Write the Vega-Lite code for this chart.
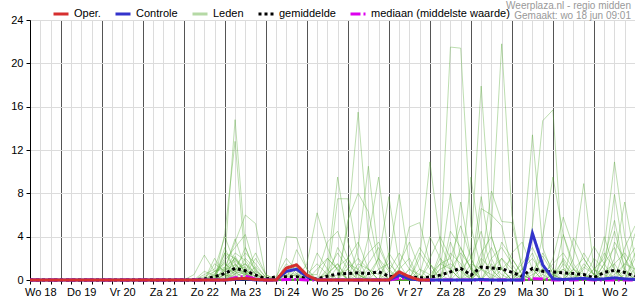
{
"$schema": "https://vega.github.io/schema/vega-lite/v6.json",
"autosize": "none",
"width": 605,
"height": 260,
"padding": {"left": 30, "top": 20, "right": 0, "bottom": 20},
"background": "white",
"config": {"font": "Liberation Sans", "view": {"stroke": "#000000", "strokeWidth": 1}},
"title": {"text": "Weerplaza.nl - regio midden", "subtitle": "Gemaakt: wo 18 jun 09:01", "anchor": "end", "frame": "group", "orient": "top", "fontSize": 10, "fontWeight": "normal", "color": "#999999", "subtitleFontSize": 10, "subtitleColor": "#999999", "subtitlePadding": 0, "offset": -16, "dx": -4},
"datasets": {
"series": [
{"t":"2025-06-18T06:00","oper":0,"ctrl":0,"mean":0,"med":0},
{"t":"2025-06-18T12:00","oper":0,"ctrl":0,"mean":0,"med":0},
{"t":"2025-06-18T18:00","oper":0,"ctrl":0,"mean":0,"med":0},
{"t":"2025-06-19T00:00","oper":0,"ctrl":0,"mean":0,"med":0},
{"t":"2025-06-19T06:00","oper":0,"ctrl":0,"mean":0,"med":0},
{"t":"2025-06-19T12:00","oper":0,"ctrl":0,"mean":0,"med":0},
{"t":"2025-06-19T18:00","oper":0,"ctrl":0,"mean":0,"med":0},
{"t":"2025-06-20T00:00","oper":0,"ctrl":0,"mean":0,"med":0},
{"t":"2025-06-20T06:00","oper":0,"ctrl":0,"mean":0,"med":0},
{"t":"2025-06-20T12:00","oper":0,"ctrl":0,"mean":0,"med":0},
{"t":"2025-06-20T18:00","oper":0,"ctrl":0,"mean":0,"med":0},
{"t":"2025-06-21T00:00","oper":0,"ctrl":0,"mean":0,"med":0},
{"t":"2025-06-21T06:00","oper":0,"ctrl":0,"mean":0,"med":0},
{"t":"2025-06-21T12:00","oper":0,"ctrl":0,"mean":0,"med":0},
{"t":"2025-06-21T18:00","oper":0,"ctrl":0,"mean":0,"med":0},
{"t":"2025-06-22T00:00","oper":0,"ctrl":0,"mean":0,"med":0},
{"t":"2025-06-22T06:00","oper":0,"ctrl":0,"mean":0.02,"med":0},
{"t":"2025-06-22T12:00","oper":0,"ctrl":0,"mean":0.1,"med":0},
{"t":"2025-06-22T18:00","oper":0,"ctrl":0,"mean":0.3,"med":0},
{"t":"2025-06-23T00:00","oper":0,"ctrl":0,"mean":0.6,"med":0},
{"t":"2025-06-23T06:00","oper":0.1,"ctrl":0.05,"mean":1.08,"med":0.2},
{"t":"2025-06-23T12:00","oper":0.15,"ctrl":0.1,"mean":0.85,"med":0.35},
{"t":"2025-06-23T18:00","oper":0.05,"ctrl":0,"mean":0.45,"med":0.1},
{"t":"2025-06-24T00:00","oper":0,"ctrl":0,"mean":0.1,"med":0},
{"t":"2025-06-24T06:00","oper":0,"ctrl":0,"mean":0.3,"med":0},
{"t":"2025-06-24T12:00","oper":1.1,"ctrl":0.8,"mean":0.3,"med":0.05},
{"t":"2025-06-24T18:00","oper":1.4,"ctrl":1.0,"mean":0.3,"med":0.05},
{"t":"2025-06-25T00:00","oper":0.45,"ctrl":0.3,"mean":0.15,"med":0},
{"t":"2025-06-25T06:00","oper":0,"ctrl":0,"mean":0.1,"med":0},
{"t":"2025-06-25T12:00","oper":0,"ctrl":0,"mean":0.35,"med":0},
{"t":"2025-06-25T18:00","oper":0,"ctrl":0,"mean":0.55,"med":0},
{"t":"2025-06-26T00:00","oper":0,"ctrl":0,"mean":0.6,"med":0},
{"t":"2025-06-26T06:00","oper":0,"ctrl":0,"mean":0.68,"med":0},
{"t":"2025-06-26T12:00","oper":0,"ctrl":0,"mean":0.6,"med":0},
{"t":"2025-06-26T18:00","oper":0,"ctrl":0,"mean":0.75,"med":0},
{"t":"2025-06-27T00:00","oper":0,"ctrl":0,"mean":0.35,"med":0},
{"t":"2025-06-27T06:00","oper":0.75,"ctrl":0.45,"mean":0.3,"med":0.15},
{"t":"2025-06-27T12:00","oper":0.3,"ctrl":0.1,"mean":0.3,"med":0.15},
{"t":"2025-06-27T18:00","oper":0,"ctrl":0,"mean":0.2,"med":0},
{"t":"2025-06-28T00:00","oper":0,"ctrl":0,"mean":0.25,"med":0},
{"t":"2025-06-28T06:00","oper":null,"ctrl":0,"mean":0.45,"med":0},
{"t":"2025-06-28T12:00","oper":null,"ctrl":0,"mean":0.75,"med":0},
{"t":"2025-06-28T18:00","oper":null,"ctrl":0,"mean":1.08,"med":0},
{"t":"2025-06-29T00:00","oper":null,"ctrl":0,"mean":0.45,"med":0},
{"t":"2025-06-29T06:00","oper":null,"ctrl":0.05,"mean":1.2,"med":0},
{"t":"2025-06-29T12:00","oper":null,"ctrl":0,"mean":1.1,"med":0},
{"t":"2025-06-29T18:00","oper":null,"ctrl":0,"mean":1.05,"med":0},
{"t":"2025-06-30T00:00","oper":null,"ctrl":0,"mean":0.7,"med":0},
{"t":"2025-06-30T06:00","oper":null,"ctrl":0,"mean":0.35,"med":0},
{"t":"2025-06-30T12:00","oper":null,"ctrl":4.3,"mean":1.08,"med":0.12},
{"t":"2025-06-30T18:00","oper":null,"ctrl":1.4,"mean":0.8,"med":0.1},
{"t":"2025-07-01T00:00","oper":null,"ctrl":0.1,"mean":0.75,"med":0},
{"t":"2025-07-01T06:00","oper":null,"ctrl":0.05,"mean":0.65,"med":0},
{"t":"2025-07-01T12:00","oper":null,"ctrl":0.1,"mean":0.6,"med":0},
{"t":"2025-07-01T18:00","oper":null,"ctrl":0.15,"mean":0.5,"med":0.05},
{"t":"2025-07-02T00:00","oper":null,"ctrl":0.05,"mean":0.2,"med":0},
{"t":"2025-07-02T06:00","oper":null,"ctrl":0.1,"mean":0.7,"med":0},
{"t":"2025-07-02T12:00","oper":null,"ctrl":0.2,"mean":0.9,"med":0},
{"t":"2025-07-02T18:00","oper":null,"ctrl":0.1,"mean":0.7,"med":0},
{"t":"2025-07-03T00:00","oper":null,"ctrl":0.05,"mean":0.35,"med":0}
],
"members": [
{"t":"2025-06-22T00:00","m1":0,"m2":0,"m3":0,"m4":0,"m5":0,"m6":0,"m7":0,"m8":0,"m9":0,"m10":0,"m11":0,"m12":0,"m13":0,"m14":0,"m15":0,"m16":0,"m17":0,"m18":0,"m19":0,"m20":0,"m21":0,"m22":0,"m23":0,"m24":0,"m25":0,"m26":0,"m27":0,"m28":0,"m29":0,"m30":0},
{"t":"2025-06-22T06:00","m1":0,"m2":0,"m3":0,"m4":0.5,"m5":0,"m6":0,"m7":0,"m8":0,"m9":0,"m10":0,"m11":0,"m12":0,"m13":0,"m14":0,"m15":0,"m16":0,"m17":0,"m18":0,"m19":0,"m20":0,"m21":0,"m22":0,"m23":0,"m24":0,"m25":0,"m26":0,"m27":0,"m28":0,"m29":0,"m30":0},
{"t":"2025-06-22T12:00","m1":0,"m2":0,"m3":0,"m4":2.3,"m5":0,"m6":0.5,"m7":0,"m8":0,"m9":0,"m10":0,"m11":0,"m12":0,"m13":0.3,"m14":0,"m15":0,"m16":0,"m17":0,"m18":0,"m19":0,"m20":0.8,"m21":0,"m22":0,"m23":0,"m24":0,"m25":0,"m26":0,"m27":0,"m28":0,"m29":0,"m30":0},
{"t":"2025-06-22T18:00","m1":0.5,"m2":0,"m3":0,"m4":0.8,"m5":1.5,"m6":1,"m7":0,"m8":0.3,"m9":0,"m10":0,"m11":0.6,"m12":0,"m13":0.8,"m14":0,"m15":2,"m16":0,"m17":0.4,"m18":0,"m19":0,"m20":0.4,"m21":0,"m22":0,"m23":0,"m24":0.8,"m25":0,"m26":0,"m27":0,"m28":0,"m29":0.2,"m30":0},
{"t":"2025-06-23T00:00","m1":2,"m2":4.3,"m3":1,"m4":1.2,"m5":0.8,"m6":4,"m7":0.5,"m8":1.8,"m9":0.8,"m10":0,"m11":1.5,"m12":2.5,"m13":1,"m14":0,"m15":0.5,"m16":0.5,"m17":2.5,"m18":0,"m19":1.2,"m20":0.6,"m21":0,"m22":3,"m23":0,"m24":1.6,"m25":0,"m26":0.3,"m27":0,"m28":0.5,"m29":0.9,"m30":0},
{"t":"2025-06-23T06:00","m1":14.8,"m2":12.8,"m3":3.5,"m4":2,"m5":2.5,"m6":1.5,"m7":1.2,"m8":3,"m9":2,"m10":1.5,"m11":0.8,"m12":1,"m13":3.8,"m14":0.5,"m15":0,"m16":1,"m17":2,"m18":1,"m19":0.6,"m20":1.8,"m21":0.3,"m22":0.8,"m23":0.8,"m24":0.4,"m25":2.2,"m26":0.8,"m27":0,"m28":0.3,"m29":1.4,"m30":0.6},
{"t":"2025-06-23T12:00","m1":3,"m2":1.5,"m3":6,"m4":0.7,"m5":1.8,"m6":0.3,"m7":2.5,"m8":4.2,"m9":1,"m10":0.5,"m11":3,"m12":0.5,"m13":1,"m14":2,"m15":0,"m16":1.5,"m17":0.6,"m18":1.2,"m19":0.3,"m20":0.8,"m21":0.8,"m22":0,"m23":1.5,"m24":0,"m25":0.7,"m26":0.5,"m27":0.5,"m28":0,"m29":0.6,"m30":0.9},
{"t":"2025-06-23T18:00","m1":0.6,"m2":0.2,"m3":5.2,"m4":0,"m5":0.5,"m6":0,"m7":1.5,"m8":1,"m9":0,"m10":2,"m11":0.8,"m12":0,"m13":0,"m14":1,"m15":0.8,"m16":0.6,"m17":0,"m18":0,"m19":0,"m20":0,"m21":2.5,"m22":0,"m23":0.5,"m24":0,"m25":0,"m26":0,"m27":1.2,"m28":0,"m29":0,"m30":0.3},
{"t":"2025-06-24T00:00","m1":0,"m2":0,"m3":0.3,"m4":0,"m5":0,"m6":0,"m7":0.2,"m8":0,"m9":0,"m10":0.5,"m11":0,"m12":0,"m13":0,"m14":0,"m15":0.2,"m16":0,"m17":0,"m18":0,"m19":0,"m20":0,"m21":0.5,"m22":0,"m23":0,"m24":0,"m25":0,"m26":0,"m27":0.3,"m28":0,"m29":0,"m30":0},
{"t":"2025-06-24T06:00","m1":0,"m2":0,"m3":0,"m4":0,"m5":0,"m6":0.3,"m7":0,"m8":0,"m9":0,"m10":0,"m11":0,"m12":0,"m13":0,"m14":0,"m15":0,"m16":0,"m17":0,"m18":0,"m19":0,"m20":0,"m21":0,"m22":0,"m23":0,"m24":0,"m25":0,"m26":0,"m27":0,"m28":0,"m29":0,"m30":0},
{"t":"2025-06-24T12:00","m1":0.8,"m2":0,"m3":0,"m4":4,"m5":0,"m6":2,"m7":0,"m8":0,"m9":0,"m10":0,"m11":1,"m12":0,"m13":0,"m14":1.2,"m15":0,"m16":0,"m17":0,"m18":0,"m19":0,"m20":0.7,"m21":0,"m22":0,"m23":1.5,"m24":0.5,"m25":0,"m26":0,"m27":0.4,"m28":0,"m29":0,"m30":0},
{"t":"2025-06-24T18:00","m1":0.5,"m2":0,"m3":0,"m4":3.9,"m5":0,"m6":0.8,"m7":0,"m8":2.8,"m9":0,"m10":0,"m11":1.2,"m12":0,"m13":0,"m14":1.5,"m15":0,"m16":0,"m17":0.6,"m18":0,"m19":0,"m20":0.3,"m21":1,"m22":0,"m23":0.6,"m24":0.4,"m25":0,"m26":0,"m27":0,"m28":0,"m29":0,"m30":0},
{"t":"2025-06-25T00:00","m1":0,"m2":0,"m3":1.5,"m4":1,"m5":0,"m6":0,"m7":0,"m8":1,"m9":0,"m10":0,"m11":0,"m12":0,"m13":0,"m14":0.5,"m15":0,"m16":0,"m17":0,"m18":0,"m19":0,"m20":0,"m21":0.3,"m22":0,"m23":0,"m24":0,"m25":0,"m26":0.5,"m27":0,"m28":0,"m29":0,"m30":0},
{"t":"2025-06-25T06:00","m1":0,"m2":0,"m3":6.2,"m4":0,"m5":0,"m6":0,"m7":0,"m8":0,"m9":1,"m10":0,"m11":0,"m12":0,"m13":0,"m14":0.5,"m15":0,"m16":0,"m17":0,"m18":2.5,"m19":0,"m20":0,"m21":0,"m22":0,"m23":0,"m24":0,"m25":0,"m26":1.5,"m27":0,"m28":0,"m29":0,"m30":0},
{"t":"2025-06-25T12:00","m1":0,"m2":0.6,"m3":3,"m4":0,"m5":1,"m6":0,"m7":0,"m8":0,"m9":2,"m10":0,"m11":0,"m12":0.8,"m13":0,"m14":3.5,"m15":0,"m16":0.5,"m17":0,"m18":1,"m19":0,"m20":0,"m21":2,"m22":0,"m23":0,"m24":0,"m25":0,"m26":0.5,"m27":0,"m28":0,"m29":0,"m30":0},
{"t":"2025-06-25T18:00","m1":1.2,"m2":1.5,"m3":0.8,"m4":0,"m5":9.5,"m6":7.5,"m7":0,"m8":0,"m9":1,"m10":0,"m11":0,"m12":2.5,"m13":0,"m14":4.5,"m15":0,"m16":1.5,"m17":3,"m18":0,"m19":0,"m20":0,"m21":1,"m22":0,"m23":0,"m24":0,"m25":0,"m26":0,"m27":0.5,"m28":0,"m29":0,"m30":0},
{"t":"2025-06-26T00:00","m1":2,"m2":0,"m3":0,"m4":2,"m5":3.5,"m6":7.5,"m7":5,"m8":0,"m9":0,"m10":5.5,"m11":0,"m12":1,"m13":0,"m14":2,"m15":0,"m16":0,"m17":1.5,"m18":0,"m19":1,"m20":0,"m21":0,"m22":0,"m23":0,"m24":1.5,"m25":0,"m26":0,"m27":1,"m28":0,"m29":0,"m30":0},
{"t":"2025-06-26T06:00","m1":0.5,"m2":0,"m3":0,"m4":3.5,"m5":0.8,"m6":2,"m7":15.5,"m8":3,"m9":0,"m10":8,"m11":0,"m12":0,"m13":0,"m14":0,"m15":1,"m16":0,"m17":0.5,"m18":0,"m19":2,"m20":0,"m21":0,"m22":1.5,"m23":0,"m24":1,"m25":0,"m26":0,"m27":0,"m28":0,"m29":0,"m30":0.5},
{"t":"2025-06-26T12:00","m1":0,"m2":0,"m3":0,"m4":1,"m5":0,"m6":0,"m7":4,"m8":10.5,"m9":4,"m10":6.3,"m11":0,"m12":0,"m13":0,"m14":0,"m15":2.5,"m16":0,"m17":0,"m18":1.5,"m19":1,"m20":0,"m21":0,"m22":1,"m23":0,"m24":0,"m25":0.5,"m26":0,"m27":0,"m28":1,"m29":0,"m30":0},
{"t":"2025-06-26T18:00","m1":0,"m2":0,"m3":0,"m4":0,"m5":0,"m6":0,"m7":1,"m8":2,"m9":9.5,"m10":1.5,"m11":2,"m12":0,"m13":0,"m14":0,"m15":3.5,"m16":0,"m17":0,"m18":3,"m19":0,"m20":0,"m21":0,"m22":0,"m23":1,"m24":0,"m25":2,"m26":0,"m27":0,"m28":0.5,"m29":0,"m30":0},
{"t":"2025-06-27T00:00","m1":0,"m2":2.5,"m3":0,"m4":0,"m5":0,"m6":0,"m7":0,"m8":0,"m9":2,"m10":0,"m11":7.7,"m12":2,"m13":0,"m14":0,"m15":1,"m16":0,"m17":0,"m18":1,"m19":0,"m20":0.8,"m21":0,"m22":0,"m23":1.5,"m24":0,"m25":0.8,"m26":0,"m27":0,"m28":0,"m29":0,"m30":0},
{"t":"2025-06-27T06:00","m1":0,"m2":1,"m3":0,"m4":0,"m5":1,"m6":0,"m7":0,"m8":0,"m9":0,"m10":0,"m11":1.5,"m12":7.9,"m13":1,"m14":0,"m15":0,"m16":0,"m17":0,"m18":0,"m19":0,"m20":2.5,"m21":1.5,"m22":0,"m23":0.5,"m24":0,"m25":0,"m26":0,"m27":0,"m28":0,"m29":0.5,"m30":0},
{"t":"2025-06-27T12:00","m1":0,"m2":0,"m3":0,"m4":0,"m5":2,"m6":0,"m7":0,"m8":0,"m9":0,"m10":0,"m11":0,"m12":1.5,"m13":4.9,"m14":0,"m15":0,"m16":1,"m17":0,"m18":0,"m19":0,"m20":1,"m21":3.5,"m22":0,"m23":0,"m24":0,"m25":0,"m26":1,"m27":0,"m28":0,"m29":0,"m30":0},
{"t":"2025-06-27T18:00","m1":0,"m2":0,"m3":2,"m4":0,"m5":0,"m6":0,"m7":0,"m8":1,"m9":0,"m10":0,"m11":0,"m12":0,"m13":5.3,"m14":0,"m15":0,"m16":3,"m17":0,"m18":0,"m19":0.5,"m20":0,"m21":1,"m22":0,"m23":0,"m24":2.5,"m25":0,"m26":0.5,"m27":0,"m28":0,"m29":0,"m30":0},
{"t":"2025-06-28T00:00","m1":0,"m2":0,"m3":10.9,"m4":0,"m5":0,"m6":0,"m7":1.5,"m8":0.5,"m9":0,"m10":0,"m11":0,"m12":0,"m13":1.5,"m14":2,"m15":0,"m16":1.5,"m17":0,"m18":0,"m19":4,"m20":0,"m21":0,"m22":0,"m23":0.5,"m24":1,"m25":0,"m26":0,"m27":0,"m28":0,"m29":0,"m30":0},
{"t":"2025-06-28T06:00","m1":0,"m2":2.5,"m3":3.5,"m4":0,"m5":0,"m6":0,"m7":0.5,"m8":0,"m9":1,"m10":0,"m11":0,"m12":0,"m13":0,"m14":4,"m15":0,"m16":0,"m17":1.5,"m18":0,"m19":2,"m20":1,"m21":0,"m22":0,"m23":1.5,"m24":0,"m25":0,"m26":0,"m27":0,"m28":2,"m29":0,"m30":0},
{"t":"2025-06-28T12:00","m1":3.5,"m2":21.5,"m3":1,"m4":0,"m5":0,"m6":1,"m7":0,"m8":0,"m9":8,"m10":0,"m11":0,"m12":0,"m13":0,"m14":2,"m15":0,"m16":4.5,"m17":2,"m18":0,"m19":0,"m20":1.5,"m21":0,"m22":0,"m23":1,"m24":0,"m25":2.5,"m26":0,"m27":0,"m28":1,"m29":0,"m30":0},
{"t":"2025-06-28T18:00","m1":1,"m2":21.4,"m3":0,"m4":0,"m5":0,"m6":2.5,"m7":0,"m8":0,"m9":2,"m10":7.2,"m11":0,"m12":0,"m13":0,"m14":0,"m15":0,"m16":3,"m17":5,"m18":0,"m19":0,"m20":0.8,"m21":0,"m22":1,"m23":0,"m24":0,"m25":1.5,"m26":0,"m27":3,"m28":0,"m29":0,"m30":0},
{"t":"2025-06-29T00:00","m1":0,"m2":5,"m3":0,"m4":3,"m5":0,"m6":1.2,"m7":0,"m8":0,"m9":0,"m10":2,"m11":9.5,"m12":1,"m13":0,"m14":0,"m15":0,"m16":1,"m17":2,"m18":0,"m19":0,"m20":0,"m21":1.5,"m22":2,"m23":0,"m24":0,"m25":0,"m26":0,"m27":1,"m28":0,"m29":0,"m30":0.5},
{"t":"2025-06-29T06:00","m1":0,"m2":1,"m3":0,"m4":17.9,"m5":1,"m6":0,"m7":0,"m8":1.5,"m9":0,"m10":0,"m11":3,"m12":7.7,"m13":6.6,"m14":0,"m15":0,"m16":0,"m17":0,"m18":2.5,"m19":0,"m20":0,"m21":1,"m22":4.5,"m23":0,"m24":2,"m25":0,"m26":0,"m27":0,"m28":0,"m29":1,"m30":1.2},
{"t":"2025-06-29T12:00","m1":0,"m2":0,"m3":0,"m4":4,"m5":5,"m6":0,"m7":0,"m8":8.2,"m9":0,"m10":0,"m11":0,"m12":2,"m13":6,"m14":0,"m15":2,"m16":0,"m17":0,"m18":4,"m19":0,"m20":0,"m21":3,"m22":1,"m23":0,"m24":1,"m25":0,"m26":1,"m27":0,"m28":1.5,"m29":0.5,"m30":0},
{"t":"2025-06-29T18:00","m1":0,"m2":0,"m3":2,"m4":1,"m5":21.8,"m6":0,"m7":0,"m8":5.4,"m9":0,"m10":0,"m11":0,"m12":0,"m13":5,"m14":0,"m15":3,"m16":0,"m17":0,"m18":1,"m19":3.5,"m20":0,"m21":1,"m22":0,"m23":0,"m24":0,"m25":1,"m26":2,"m27":0,"m28":0.5,"m29":0,"m30":0},
{"t":"2025-06-30T00:00","m1":0,"m2":0,"m3":1,"m4":0,"m5":6,"m6":0,"m7":0,"m8":5.3,"m9":0,"m10":0,"m11":0,"m12":0,"m13":1,"m14":0.5,"m15":1.5,"m16":0,"m17":0,"m18":0,"m19":2,"m20":0,"m21":0,"m22":0,"m23":2.5,"m24":0,"m25":2,"m26":0.5,"m27":0,"m28":0,"m29":0,"m30":0},
{"t":"2025-06-30T06:00","m1":0,"m2":1,"m3":0,"m4":0,"m5":1,"m6":2,"m7":0,"m8":1,"m9":0,"m10":0,"m11":0,"m12":0,"m13":0,"m14":1.5,"m15":0,"m16":0,"m17":0.5,"m18":0,"m19":0.5,"m20":1,"m21":0,"m22":0,"m23":3.5,"m24":0,"m25":0.5,"m26":0,"m27":0,"m28":0,"m29":0,"m30":0},
{"t":"2025-06-30T12:00","m1":0.8,"m2":2.5,"m3":0,"m4":0,"m5":0,"m6":13.4,"m7":5,"m8":0,"m9":0,"m10":0,"m11":0,"m12":0,"m13":0,"m14":3,"m15":0,"m16":0.5,"m17":0,"m18":0,"m19":0,"m20":2,"m21":0,"m22":0,"m23":1,"m24":0,"m25":0,"m26":0,"m27":1,"m28":0,"m29":0,"m30":0},
{"t":"2025-06-30T18:00","m1":2.2,"m2":0,"m3":0,"m4":0,"m5":0,"m6":3,"m7":14.7,"m8":0,"m9":4,"m10":0,"m11":0,"m12":0,"m13":0,"m14":1,"m15":0,"m16":1,"m17":0,"m18":0.5,"m19":0,"m20":0.5,"m21":0,"m22":0,"m23":0,"m24":2.5,"m25":0,"m26":0,"m27":0,"m28":0,"m29":0,"m30":1},
{"t":"2025-07-01T00:00","m1":0.6,"m2":0,"m3":0,"m4":0.5,"m5":0,"m6":0.5,"m7":15.7,"m8":0,"m9":9.5,"m10":0,"m11":2,"m12":0,"m13":0,"m14":0,"m15":0,"m16":0,"m17":0,"m18":1.5,"m19":0,"m20":0,"m21":0,"m22":1,"m23":0,"m24":1,"m25":0,"m26":0,"m27":0,"m28":0,"m29":0.5,"m30":0.5},
{"t":"2025-07-01T06:00","m1":0,"m2":0,"m3":2,"m4":1.8,"m5":0,"m6":0,"m7":1.2,"m8":0,"m9":4.2,"m10":0,"m11":5.8,"m12":0,"m13":0,"m14":0,"m15":4.2,"m16":0,"m17":0,"m18":2.5,"m19":0,"m20":0,"m21":1,"m22":0.5,"m23":0,"m24":0,"m25":0,"m26":1.5,"m27":0,"m28":0,"m29":1,"m30":0},
{"t":"2025-07-01T12:00","m1":0,"m2":0,"m3":0.6,"m4":0,"m5":1,"m6":0,"m7":0,"m8":0,"m9":1,"m10":2,"m11":3,"m12":0,"m13":0,"m14":0,"m15":1.5,"m16":3.9,"m17":0,"m18":1,"m19":0,"m20":0,"m21":0.3,"m22":0,"m23":0,"m24":0,"m25":0,"m26":0.5,"m27":1,"m28":0,"m29":0,"m30":0},
{"t":"2025-07-01T18:00","m1":0,"m2":1.2,"m3":0,"m4":0,"m5":0.5,"m6":0,"m7":0,"m8":1,"m9":0,"m10":8.9,"m11":0.5,"m12":0,"m13":0,"m14":0,"m15":0,"m16":2,"m17":0,"m18":0,"m19":2.5,"m20":0,"m21":0,"m22":0,"m23":0,"m24":1.5,"m25":0,"m26":0,"m27":2,"m28":0,"m29":0,"m30":0},
{"t":"2025-07-02T00:00","m1":0,"m2":0.5,"m3":0,"m4":0,"m5":0,"m6":0,"m7":0,"m8":3.1,"m9":0,"m10":1,"m11":0,"m12":0,"m13":0,"m14":0,"m15":0.5,"m16":0.5,"m17":1,"m18":0,"m19":1,"m20":0,"m21":0,"m22":2,"m23":0,"m24":0.5,"m25":0,"m26":0,"m27":0.5,"m28":1,"m29":0,"m30":0},
{"t":"2025-07-02T06:00","m1":1.5,"m2":0,"m3":0,"m4":0,"m5":0,"m6":0.8,"m7":0,"m8":1.5,"m9":0,"m10":0,"m11":0,"m12":3,"m13":1,"m14":0,"m15":4,"m16":0,"m17":2,"m18":0,"m19":0,"m20":2.5,"m21":0,"m22":1,"m23":0,"m24":0,"m25":1.5,"m26":0,"m27":0,"m28":0.5,"m29":0,"m30":0},
{"t":"2025-07-02T12:00","m1":3,"m2":0,"m3":1.5,"m4":0,"m5":0,"m6":1.5,"m7":0.8,"m8":0,"m9":0,"m10":0,"m11":0,"m12":10.9,"m13":7.9,"m14":2,"m15":1,"m16":0,"m17":5.5,"m18":0,"m19":0,"m20":1,"m21":0,"m22":0,"m23":3.5,"m24":0,"m25":4.5,"m26":0,"m27":0,"m28":0,"m29":0.5,"m30":0},
{"t":"2025-07-02T18:00","m1":0.8,"m2":0,"m3":2.5,"m4":1,"m5":0,"m6":0,"m7":0,"m8":0,"m9":0.5,"m10":0,"m11":0,"m12":4,"m13":2,"m14":7.2,"m15":0,"m16":0,"m17":1,"m18":0,"m19":0,"m20":0,"m21":3,"m22":0,"m23":2,"m24":0,"m25":1,"m26":1.5,"m27":0,"m28":0,"m29":1.5,"m30":0},
{"t":"2025-07-03T00:00","m1":0,"m2":0,"m3":1,"m4":4.3,"m5":0,"m6":0,"m7":0,"m8":0,"m9":0,"m10":1,"m11":0,"m12":0.5,"m13":0,"m14":2,"m15":0,"m16":0,"m17":0,"m18":2,"m19":0,"m20":0,"m21":5,"m22":0,"m23":0.5,"m24":0,"m25":0,"m26":3,"m27":0,"m28":0,"m29":1,"m30":2.5}
]
},
"layer": [
{
"data": {"name": "members"},
"transform": [{"fold": ["m1","m2","m3","m4","m5","m6","m7","m8","m9","m10","m11","m12","m13","m14","m15","m16","m17","m18","m19","m20","m21","m22","m23","m24","m25","m26","m27","m28","m29","m30"], "as": ["member", "v"]}],
"mark": {"type": "line", "stroke": "#5aac3a", "strokeWidth": 1, "opacity": 0.4},
"encoding": {
"x": {"field": "t", "type": "temporal",
"axis": {"title": null, "tickCount": 59, "grid": true,
"gridColor": {"condition": {"test": "hours(datum.value) == 0", "value": "#555555"}, "value": "#dcdcdc"},
"domainColor": "#000000", "tickColor": "#000000", "tickSize": 4,
"labelExpr": "hours(datum.value) == 12 ? (day(datum.value) == 0 ? 'Zo' : day(datum.value) == 1 ? 'Ma' : day(datum.value) == 2 ? 'Di' : day(datum.value) == 3 ? 'Wo' : day(datum.value) == 4 ? 'Do' : day(datum.value) == 5 ? 'Vr' : 'Za') + ' ' + date(datum.value) : ''",
"labelFontSize": 11, "labelColor": "#000000", "labelOverlap": false, "labelFlush": false, "labelBound": false, "labelPadding": 2}},
"y": {"field": "v", "type": "quantitative", "scale": {"domain": [0, 24], "nice": false},
"axis": {"title": null, "values": [0,2,4,6,8,10,12,14,16,18,20,22,24], "grid": true, "gridColor": "#dcdcdc", "domainColor": "#000000", "tickColor": "#000000", "tickSize": 4, "labelFontSize": 11, "labelColor": "#000000", "labelPadding": 3, "labelOverlap": false}},
"detail": {"field": "member"}
}
},
{
"data": {"name": "series"},
"transform": [{"fold": ["mean", "med", "ctrl", "oper"], "as": ["series", "v"]}],
"mark": {"type": "line", "strokeCap": "butt", "strokeWidth": 3},
"encoding": {
"x": {"field": "t", "type": "temporal"},
"y": {"field": "v", "type": "quantitative"},
"color": {"field": "series", "type": "nominal",
"scale": {"domain": ["oper", "ctrl", "leden", "mean", "med"], "range": ["#d62f2f", "#3333cc", "#b5d9a5", "#000000", "#dd00ee"]},
"legend": {"orient": "none", "legendX": 22, "legendY": -15, "direction": "horizontal", "title": null, "symbolType": "stroke", "symbolSize": 225, "symbolStrokeWidth": 3, "labelFontSize": 11, "labelColor": "#000000", "labelOffset": 4, "columnPadding": 8, "padding": 0,
"labelExpr": "datum.label == 'oper' ? 'Oper.' : datum.label == 'ctrl' ? 'Controle' : datum.label == 'leden' ? 'Leden' : datum.label == 'mean' ? 'gemiddelde' : 'mediaan (middelste waarde)'"}},
"strokeDash": {"field": "series", "type": "nominal",
"scale": {"domain": ["oper", "ctrl", "leden", "mean", "med"], "range": [[1, 0], [1, 0], [1, 0], [3, 3], [10, 3, 2, 3]]},
"legend": {"orient": "none", "legendX": 22, "legendY": -15, "direction": "horizontal", "title": null, "symbolType": "stroke", "symbolSize": 225, "symbolStrokeWidth": 3, "labelFontSize": 11, "labelColor": "#000000", "labelOffset": 4, "columnPadding": 8, "padding": 0,
"labelExpr": "datum.label == 'oper' ? 'Oper.' : datum.label == 'ctrl' ? 'Controle' : datum.label == 'leden' ? 'Leden' : datum.label == 'mean' ? 'gemiddelde' : 'mediaan (middelste waarde)'"}}
}
}
]
}
